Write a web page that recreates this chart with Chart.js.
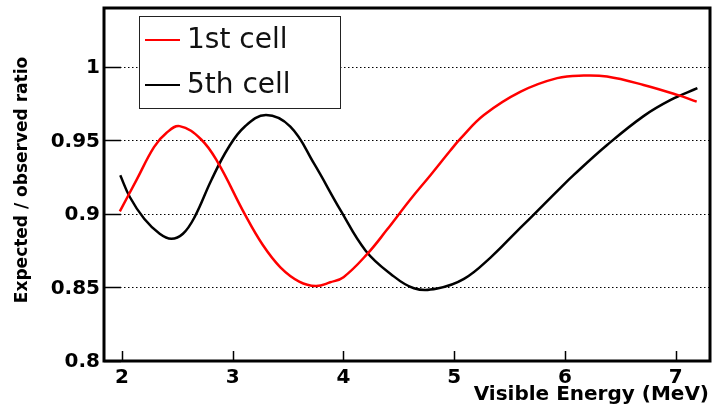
<!DOCTYPE html>
<html>
<head>
<meta charset="utf-8">
<script src="https://cdn.jsdelivr.net/npm/chart.js@4/dist/chart.umd.min.js"></script>
<style>
  html, body { margin: 0; padding: 0; background: #fff; }
</style>
</head>
<body>
<canvas id="myChart" width="712" height="407"></canvas>
<script>
// values
const seriesNames = ['1st cell', '5th cell'];
const seriesColors = ['#ff0000', '#000000'];

const energy1 = [1.98, 2.13, 2.29, 2.40, 2.52, 2.715, 2.865, 3.107, 3.27, 3.43, 3.60, 3.75, 3.88, 4.0,
                 4.215, 4.39, 4.6, 4.787, 4.967, 5.058, 5.268, 5.6, 5.93, 6.17, 6.38, 6.71, 7.015, 7.19];
const ratio1 = [0.9017, 0.923, 0.9456, 0.955, 0.9597, 0.9506, 0.935, 0.900, 0.879, 0.8637, 0.854, 0.851, 0.8535, 0.857,
                0.8728, 0.889, 0.9095, 0.9265, 0.9433, 0.9513, 0.9672, 0.9831, 0.9923, 0.9941, 0.9934, 0.9877, 0.9809, 0.9763];

const energy5 = [1.984, 2.07, 2.2, 2.34, 2.445, 2.55, 2.655, 2.806, 2.956, 3.107, 3.3, 3.52, 3.733, 3.974,
                 4.2, 4.426, 4.636, 4.847, 5.088, 5.33, 5.57, 5.705, 5.93, 6.08, 6.383, 6.71, 6.955, 7.196];
const ratio5 = [0.9263, 0.9115, 0.8967, 0.8865, 0.8831, 0.8865, 0.8978, 0.9229, 0.9445, 0.9593, 0.9672, 0.9593, 0.9343, 0.9024,
                0.875, 0.8592, 0.8495, 0.8493, 0.8558, 0.8705, 0.8885, 0.8985, 0.9155, 0.9265, 0.947, 0.9665, 0.9775, 0.9855];

const xTicks = [2, 3, 4, 5, 6, 7];
const yTicks = [0.8, 0.85, 0.9, 0.95, 1];
const yTickLabels = ['0.8', '0.85', '0.9', '0.95', '1'];
const xTitle = 'Visible Energy (MeV)';
const yTitle = 'Expected / observed ratio';

const ctx = document.getElementById('myChart');

function pts(xs, ys) {
  return xs.map((x, i) => ({ x: x, y: ys[i] }));
}

// ROOT-like frame, inner ticks, dotted grid, labels and legend
const rootStyle = {
  id: 'rootStyle',
  beforeDatasetsDraw(chart) {
    const c = chart.ctx, a = chart.chartArea;
    const xs = chart.scales.x, ys = chart.scales.y;
    c.save();
    c.strokeStyle = '#000';
    c.lineWidth = 1;
    c.setLineDash([1.5, 2.5]);
    yTicks.forEach(v => {
      if (v <= ys.min || v >= ys.max) return;
      const py = Math.round(ys.getPixelForValue(v)) + 0.5;
      c.beginPath(); c.moveTo(a.left, py); c.lineTo(a.right, py); c.stroke();
    });
    c.setLineDash([]);
    c.lineWidth = 1.5;
    yTicks.forEach(v => {
      const py = Math.round(ys.getPixelForValue(v)) + 0.5;
      c.beginPath(); c.moveTo(a.left, py); c.lineTo(a.left + 17, py); c.stroke();
    });
    xTicks.forEach(v => {
      const px = Math.round(xs.getPixelForValue(v)) + 0.5;
      c.beginPath(); c.moveTo(px, a.bottom); c.lineTo(px, a.bottom - 10); c.stroke();
    });
    c.restore();
  },
  afterDatasetsDraw(chart) {
    const c = chart.ctx, a = chart.chartArea;
    const xs = chart.scales.x, ys = chart.scales.y;
    c.save();
    // frame
    c.strokeStyle = '#000';
    c.lineWidth = 3;
    c.strokeRect(a.left, a.top, a.right - a.left, a.bottom - a.top);

    // tick labels
    c.fillStyle = '#000';
    c.font = 'bold 20px "DejaVu Sans"';
    c.textAlign = 'right';
    c.textBaseline = 'middle';
    yTicks.forEach((v, i) => {
      c.fillText(yTickLabels[i], a.left - 4, ys.getPixelForValue(v) + 1);
    });
    c.textAlign = 'center';
    xTicks.forEach(v => {
      c.fillText(String(v), xs.getPixelForValue(v), a.bottom + 17);
    });

    // axis titles
    c.textAlign = 'right';
    c.fillText(xTitle, a.right - 1, a.bottom + 34);
    c.save();
    c.translate(23, 180);
    c.rotate(-Math.PI / 2);
    c.textAlign = 'center';
    c.font = 'bold 17px "DejaVu Sans"';
    c.fillText(yTitle, 0, 0);
    c.restore();

    // legend box
    const bx = 139, by = 16, bw = 201, bh = 92;
    c.fillStyle = '#fff';
    c.fillRect(bx, by, bw, bh);
    c.strokeStyle = '#222';
    c.lineWidth = 1;
    c.strokeRect(bx + 0.5, by + 0.5, bw, bh);
    c.font = '28px "DejaVu Sans"';
    c.textAlign = 'left';
    c.textBaseline = 'middle';
    seriesNames.forEach((name, i) => {
      const ly = by + 24 + i * 45;
      c.strokeStyle = seriesColors[i];
      c.lineWidth = 2;
      c.beginPath(); c.moveTo(bx + 6, ly); c.lineTo(bx + 41, ly); c.stroke();
      c.fillStyle = '#111';
      c.fillText(name, bx + 48, ly + 1);
    });
    c.restore();
  }
};

const myChart = new Chart(ctx, {
  type: 'line',
  data: {
    datasets: [{
      label: seriesNames[0],
      data: pts(energy1, ratio1),
      borderColor: seriesColors[0],
      borderWidth: 2.5,
      pointRadius: 0,
      tension: 0.4,
      fill: false
    },
    {
      label: seriesNames[1],
      data: pts(energy5, ratio5),
      borderColor: seriesColors[1],
      borderWidth: 2.5,
      pointRadius: 0,
      tension: 0.4,
      fill: false
    }]
  },
  options: {
    responsive: false,
    devicePixelRatio: 1,
    animation: false,
    layout: { padding: { left: 104, right: 2, top: 8, bottom: 46 } },
    plugins: {
      legend: { display: false },
      tooltip: { enabled: false }
    },
    scales: {
      x: {
        type: 'linear',
        min: 1.837,
        max: 7.31,
        display: false,
        afterBuildTicks: s => { s.ticks = xTicks.map(v => ({ value: v })); }
      },
      y: {
        type: 'linear',
        min: 0.8,
        max: 1.04,
        display: false,
        afterBuildTicks: s => { s.ticks = yTicks.map(v => ({ value: v })); }
      }
    }
  },
  plugins: [rootStyle]
});
</script>
</body>
</html>
